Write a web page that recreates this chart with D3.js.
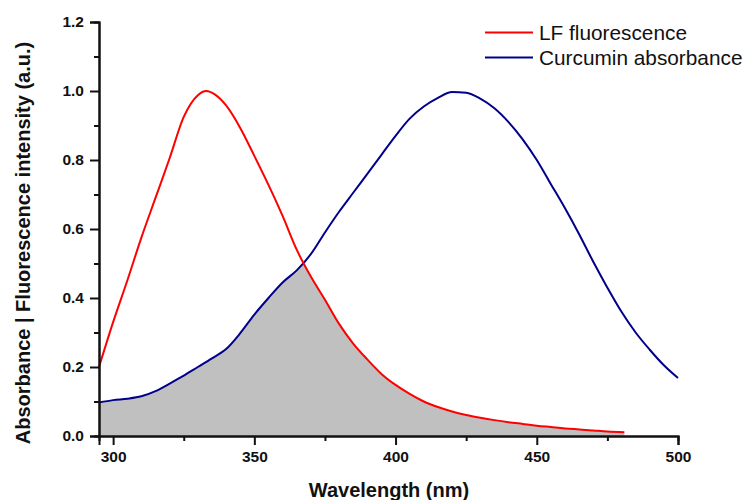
<!DOCTYPE html>
<html>
<head>
<meta charset="utf-8">
<script src="https://cdn.jsdelivr.net/npm/d3@7"></script>
<style>
  body { margin: 0; background: #fff; }
  svg { display: block; }
  text { font-family: "Liberation Sans", Arial, Helvetica, sans-serif; fill: #111; }
</style>
</head>
<body>
<svg id="chart" width="749" height="500"></svg>
<script>
// LF fluorescence emission (normalised)
const fluoWavelength = [295,300,305,310,315,320,325,330,333,336,340,345,350,355,360,365,370,375,380,385,390,395,400,405,410,415,420,425,430,435,440,445,450,455,460,465,470,475,481];
const fluorescence   = [0.200,0.330,0.450,0.575,0.690,0.805,0.925,0.988,1.000,0.990,0.958,0.893,0.812,0.728,0.638,0.540,0.462,0.395,0.325,0.268,0.222,0.180,0.148,0.122,0.100,0.084,0.071,0.061,0.053,0.046,0.040,0.035,0.030,0.026,0.022,0.019,0.016,0.013,0.011];

// Curcumin absorbance (normalised)
const absWavelength = [295,300,305,310,315,320,325,330,335,340,345,350,355,360,365,370,375,380,385,390,395,400,405,410,415,420,425,430,435,440,445,450,455,460,465,470,475,480,485,490,495,500];
const absorbance    = [0.097,0.104,0.108,0.115,0.130,0.152,0.175,0.200,0.225,0.252,0.298,0.352,0.400,0.445,0.480,0.527,0.590,0.650,0.705,0.760,0.815,0.870,0.920,0.955,0.980,0.997,0.995,0.978,0.950,0.910,0.860,0.800,0.730,0.660,0.585,0.505,0.430,0.360,0.300,0.250,0.205,0.168];

const seriesNames  = ["LF fluorescence", "Curcumin absorbance"];
const seriesColors = ["#ff0000", "#00008b"];
const xTicks      = [300, 350, 400, 450, 500];
const xMinorTicks = [325, 375, 425, 475];
const yTicks      = [0, 0.2, 0.4, 0.6, 0.8, 1.0, 1.2];
const yMinorTicks = [0.1, 0.3, 0.5, 0.7, 0.9, 1.1];

const svg = d3.select("#chart");
const x = d3.scaleLinear().domain([295, 500]).range([99, 678]);
const y = d3.scaleLinear().domain([0, 1.2]).range([436, 22]);

const fluoPts = fluoWavelength.map((w, i) => [w, fluorescence[i]]);
const absPts  = absWavelength.map((w, i) => [w, absorbance[i]]);

const curve = d3.curveMonotoneX;
const line = d3.line().x(d => x(d[0])).y(d => y(d[1])).curve(curve);
const area = d3.area().x(d => x(d[0])).y0(y(0)).y1(d => y(d[1])).curve(curve);

// Spectral overlap: area under fluorescence clipped to area under absorbance
svg.append("defs").append("clipPath").attr("id", "absClip")
  .append("path").attr("d", area(absPts));
svg.append("path")
  .attr("d", area(fluoPts))
  .attr("fill", "#c0c0c0")
  .attr("clip-path", "url(#absClip)");

svg.append("path").attr("d", line(absPts))
  .attr("fill", "none").attr("stroke", seriesColors[1]).attr("stroke-width", 2);
svg.append("path").attr("d", line(fluoPts))
  .attr("fill", "none").attr("stroke", seriesColors[0]).attr("stroke-width", 2);

// Axes
svg.append("g").attr("transform", `translate(0,${y(0)})`)
  .call(d3.axisBottom(x).tickValues(xTicks).tickSize(9).tickPadding(6).tickFormat(d3.format("d")));
svg.append("g").attr("transform", `translate(0,${y(0)})`)
  .call(d3.axisBottom(x).tickValues(xMinorTicks).tickSize(5).tickFormat(""));
svg.append("g").attr("transform", `translate(${x(295)},0)`)
  .call(d3.axisLeft(y).tickValues(yTicks).tickSize(9).tickPadding(6).tickFormat(d3.format(".1f")));
svg.append("g").attr("transform", `translate(${x(295)},0)`)
  .call(d3.axisLeft(y).tickValues(yMinorTicks).tickSize(5).tickFormat(""));

svg.selectAll(".domain").attr("stroke", "#111").attr("stroke-width", 2);
svg.selectAll(".tick line").attr("stroke", "#111").attr("stroke-width", 2);
svg.selectAll(".tick text")
  .attr("fill", "#111")
  .style("font-family", "'Liberation Sans', Arial, sans-serif")
  .style("font-size", "15.5px").style("font-weight", "bold");

// Axis titles
svg.append("text")
  .attr("x", 389).attr("y", 497)
  .attr("text-anchor", "middle")
  .style("font-size", "20px").style("font-weight", "bold")
  .text("Wavelength (nm)");
svg.append("text")
  .attr("transform", "translate(30,243) rotate(-90)")
  .attr("text-anchor", "middle")
  .style("font-size", "20px").style("font-weight", "bold")
  .text("Absorbance | Fluorescence intensity (a.u.)");

// Legend
const legend = svg.append("g");
seriesNames.forEach((name, i) => {
  const ly = 32.5 + i * 25;
  legend.append("line")
    .attr("x1", 485).attr("x2", 533).attr("y1", ly).attr("y2", ly)
    .attr("stroke", seriesColors[i]).attr("stroke-width", 2);
  legend.append("text")
    .attr("x", 539).attr("y", ly + 7)
    .style("font-size", "20.8px")
    .text(name);
});
</script>
</body>
</html>
